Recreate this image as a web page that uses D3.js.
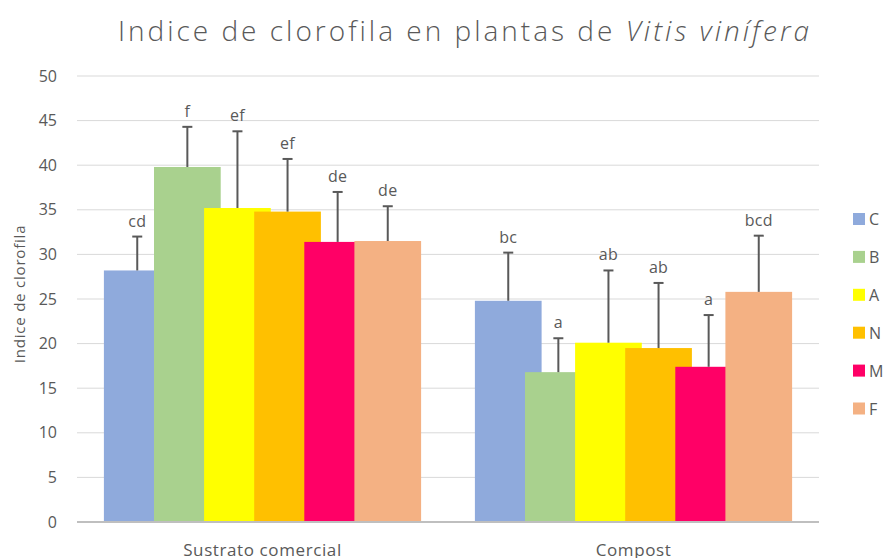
<!DOCTYPE html>
<html>
<head>
<meta charset="utf-8">
<script src="https://cdn.jsdelivr.net/npm/d3@7"></script>
<style>
  html, body { margin: 0; padding: 0; background: #ffffff; }
  svg { display: block; }
  text { font-family: "Open Sans", "Noto Sans", sans-serif; fill: #595959; }
</style>
</head>
<body>
<svg id="chart" width="887" height="558"></svg>
<script>
// ---- data ----
const categories = ["Sustrato comercial", "Compost"];
const series = ["C", "B", "A", "N", "M", "F"];
const colors = ["#8faadc", "#a9d18e", "#ffff00", "#ffc000", "#ff0066", "#f4b183"];
const sustratoValues = [28.2, 39.8, 35.2, 34.8, 31.4, 31.5];
const sustratoErrors = [3.8, 4.5, 8.6, 5.9, 5.6, 3.9];
const compostValues = [24.8, 16.8, 20.1, 19.5, 17.4, 25.8];
const compostErrors = [5.4, 3.8, 8.1, 7.3, 5.8, 6.3];
const sustratoLetters = ["cd", "f", "ef", "ef", "de", "de"];
const compostLetters = ["bc", "a", "ab", "ab", "a", "bcd"];
const yTicks = [0, 5, 10, 15, 20, 25, 30, 35, 40, 45, 50];

const valuesByCat = [sustratoValues, compostValues];
const errorsByCat = [sustratoErrors, compostErrors];
const lettersByCat = [sustratoLetters, compostLetters];

const rows = [];
categories.forEach((cat, ci) => {
  series.forEach((s, si) => {
    rows.push({cat, s, si, v: valuesByCat[ci][si], e: errorsByCat[ci][si], lab: lettersByCat[ci][si]});
  });
});

// ---- layout ----
const svg = d3.select("#chart");
const plot = {left: 77, right: 819, top: 76, bottom: 522};

const y = d3.scaleLinear().domain([0, 50]).range([plot.bottom, plot.top]);
const x0 = d3.scaleBand().domain(categories).range([plot.left, plot.right]).paddingInner(0).paddingOuter(0);
const step = 50.1, barW = 66.7;
const x1 = d3.scaleBand().domain(series).range([0, step * series.length]).padding(0);
const groupSpan = step * (series.length - 1) + barW;
const offset = (x0.bandwidth() - groupSpan) / 2;
const color = d3.scaleOrdinal().domain(series).range(colors);
const barX = d => x0(d.cat) + offset + x1(d.s);

// title
const title = svg.append("text")
  .attr("x", 465).attr("y", 41)
  .attr("text-anchor", "middle")
  .style("font-size", "28px").style("font-weight", 300).style("letter-spacing", "3px");
title.append("tspan").text("Indice de clorofila en plantas de ");
title.append("tspan").style("font-style", "italic").text("Vitis vinífera");

// gridlines
svg.append("g").selectAll("line").data(yTicks.filter(t => t > 0)).join("line")
  .attr("x1", plot.left).attr("x2", plot.right)
  .attr("y1", d => y(d)).attr("y2", d => y(d))
  .attr("stroke", "#d9d9d9").attr("stroke-width", 1);

// y axis
const yAxis = svg.append("g").attr("transform", `translate(${plot.left - 14},0)`)
  .call(d3.axisLeft(y).tickValues(yTicks).tickSize(0).tickPadding(6));
yAxis.select(".domain").remove();
yAxis.selectAll("text").style("font-size", "16px").style("fill", "#595959")
  .style("font-family", "'Open Sans', sans-serif");

// y label
svg.append("text")
  .attr("transform", "translate(25,294) rotate(-90)")
  .attr("text-anchor", "middle")
  .style("font-size", "15px").style("letter-spacing", "0.8px")
  .text("Indice de clorofila");

// bars (drawn in series order so later ones overlap)
svg.append("g").selectAll("rect").data(rows).join("rect")
  .attr("x", d => barX(d))
  .attr("width", barW)
  .attr("y", d => y(d.v))
  .attr("height", d => y(0) - y(d.v))
  .attr("fill", d => color(d.s));

// error bars
const eg = svg.append("g").attr("stroke", "#595959").attr("stroke-width", 2);
eg.selectAll("line.v").data(rows).join("line").attr("class", "v")
  .attr("x1", d => barX(d) + barW / 2).attr("x2", d => barX(d) + barW / 2)
  .attr("y1", d => y(d.v)).attr("y2", d => y(d.v + d.e));
eg.selectAll("line.c").data(rows).join("line").attr("class", "c")
  .attr("x1", d => barX(d) + barW / 2 - 5).attr("x2", d => barX(d) + barW / 2 + 5)
  .attr("y1", d => y(d.v + d.e)).attr("y2", d => y(d.v + d.e));

// letters
svg.append("g").selectAll("text").data(rows).join("text")
  .attr("x", d => barX(d) + barW / 2)
  .attr("y", d => y(d.v + d.e) - 10)
  .attr("text-anchor", "middle")
  .style("font-size", "16px").style("letter-spacing", "0.3px")
  .text(d => d.lab);

// x axis line
svg.append("line")
  .attr("x1", plot.left).attr("x2", plot.right)
  .attr("y1", y(0)).attr("y2", y(0))
  .attr("stroke", "#bfbfbf").attr("stroke-width", 2);

// x category labels
const xAxis = svg.append("g").attr("transform", `translate(0,${y(0)})`)
  .call(d3.axisBottom(x0).tickSize(0).tickPadding(0));
xAxis.select(".domain").remove();
xAxis.selectAll("text")
  .attr("dy", null).attr("y", 34)
  .style("font-size", "17px").style("letter-spacing", "0.6px").style("fill", "#595959")
  .style("font-family", "'Open Sans', sans-serif");

// legend
const lg = svg.append("g").selectAll("g").data(series).join("g")
  .attr("transform", (d, i) => `translate(853,${219 + i * 37.9})`);
lg.append("rect").attr("x", 0).attr("y", -6).attr("width", 12).attr("height", 12)
  .attr("fill", d => color(d));
lg.append("text").attr("x", 16).attr("y", 6).style("font-size", "16px").text(d => d);
</script>
</body>
</html>
